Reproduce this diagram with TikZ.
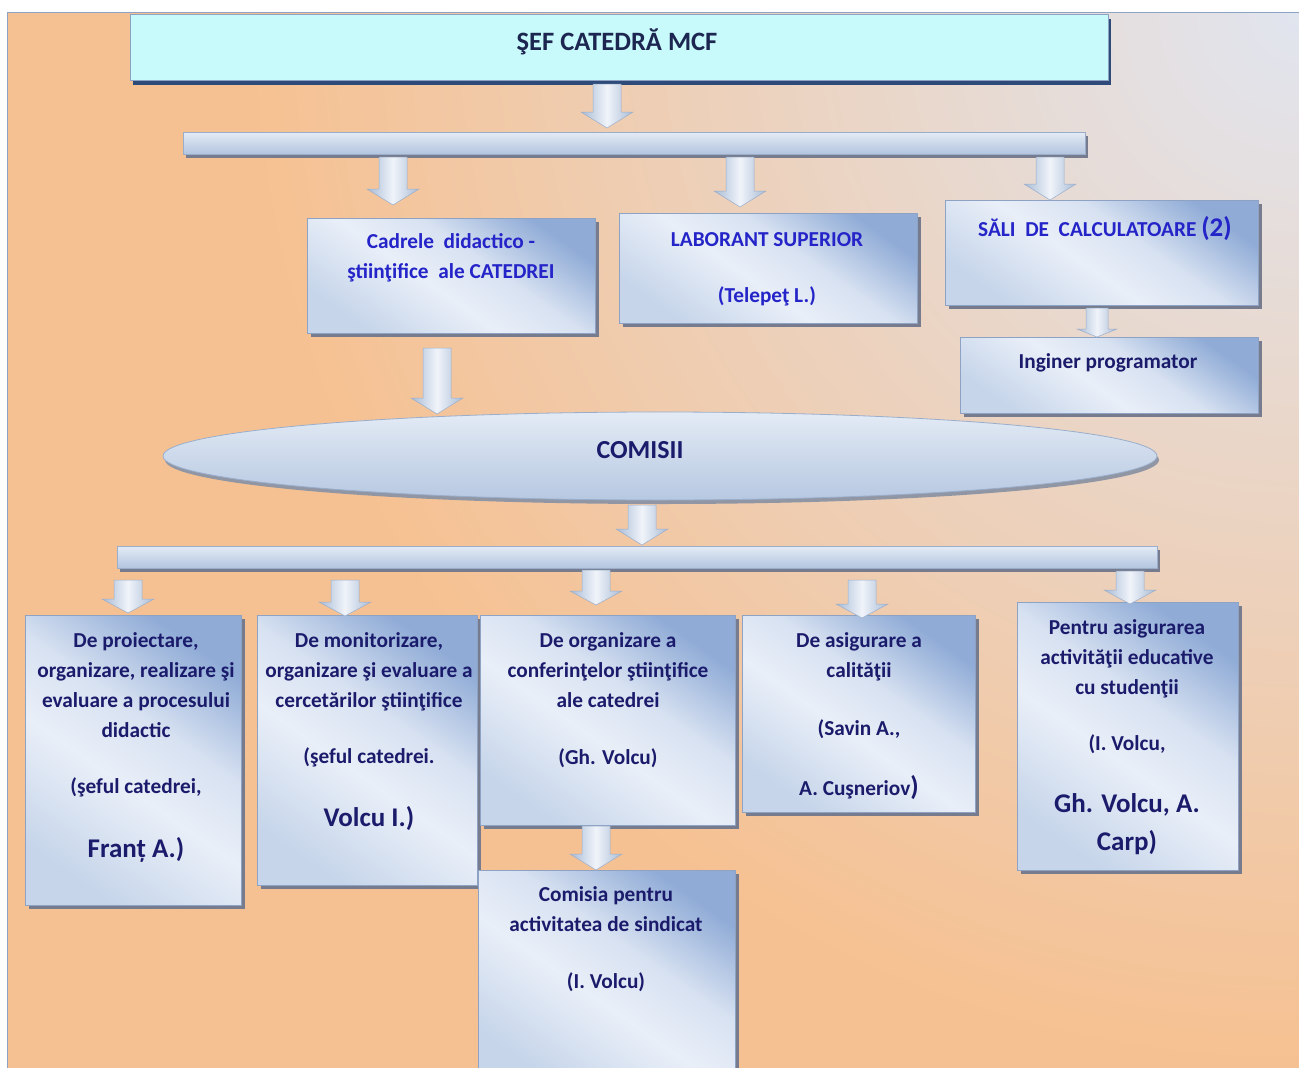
\documentclass[tikz,border=0pt]{standalone}
\usepackage{fontspec}
\setmainfont{Carlito}
\usetikzlibrary{shapes.geometric,calc}
\definecolor{bgor}{HTML}{F6C192}
\definecolor{bgbl}{HTML}{E1E5EF}
\definecolor{navy}{HTML}{1B1B6C}
\definecolor{bluet}{HTML}{2424C8}
\definecolor{titletxt}{HTML}{1C2650}
\definecolor{titlefill}{HTML}{C8FAFC}
\definecolor{titleshd}{HTML}{2E4A78}
\definecolor{bxdark}{HTML}{8FABD6}
\definecolor{bxmid}{HTML}{E9EFF8}
\definecolor{bxlight}{HTML}{C6D5EA}
\definecolor{shd}{HTML}{767C8E}
\definecolor{bxline}{HTML}{8EA3C4}
\definecolor{arredge}{HTML}{A9BBD5}
\definecolor{arrmid}{HTML}{F0F4FA}
\definecolor{arrline}{HTML}{9AAECB}
\definecolor{bartop}{HTML}{E3EBF5}
\definecolor{barbot}{HTML}{B2C4DF}
\pgfdeclareverticalshading{glass}{100bp}{color(0bp)=(bxlight); color(25bp)=(bxlight); color(45bp)=(bxmid); color(58bp)=(bxmid!80!bxdark); color(75bp)=(bxdark); color(100bp)=(bxdark)}
\newcommand\fs{\rule{0pt}{19pt}}
\newcommand\bigfnt{\fontsize{27}{30}\selectfont}
\newcommand\blockarrow[5]{%
  \path[arrsty] let \p1=(#1), \p2=(#2) in
    (\x1-#3pt,\y1) -- (\x1+#3pt,\y1) -- (\x1+#3pt,\y2+#5pt) -- (\x1+#4pt,\y2+#5pt)
    -- (\x1,\y2) -- (\x1-#4pt,\y2+#5pt) -- (\x1-#3pt,\y2+#5pt) -- cycle;}
\tikzset{
  glassbox/.style={rectangle, anchor=north west, inner sep=0pt, shade, shading=glass,
    shading angle=-35, draw=bxline, line width=0.7pt,
    preaction={fill=shd, transform canvas={shift={(4pt,-4pt)}}}},
  barsty/.style={rectangle, anchor=north west, inner sep=0pt, top color=bartop,
    bottom color=barbot, draw=arrline, line width=0.6pt,
    preaction={fill=shd, transform canvas={shift={(3pt,-4pt)}}}},
  arrsty/.style={left color=arredge, right color=arredge, middle color=arrmid,
    draw=arrline, line width=0.5pt},
  txt/.style={anchor=north, align=center, inner sep=0pt,
    font=\fontsize{21.3}{30}\selectfont\bfseries, text=navy},
  txtb/.style={txt, text=bluet},
}
\begin{document}
\begin{tikzpicture}[x=1pt,y=-1pt]
\useasboundingbox (0,0) rectangle (1299,1068);
\begin{scope}
\clip (0,0) rectangle (1299,1068);
\fill[white] (0,0) rectangle (1299,1068);
\begin{scope}
\clip (7,12) rectangle (1299,1068);
\fill[bgor] (7,12) rectangle (1299,1068);
\shade[inner color=bgbl, outer color=bgor] (1299,12) circle (1050);
\end{scope}
\draw[bxline, line width=0.8pt] (7,1068) -- (7,12) -- (1299,12);

% title
\node[rectangle, anchor=north west, minimum width=978pt, minimum height=66pt,
  fill=titlefill, draw=bxline, line width=0.8pt,
  preaction={fill=titleshd, transform canvas={shift={(3pt,-5pt)}}}] (sef) at (130,14) {};
\node[font=\fontsize{26.5}{30}\selectfont\bfseries, text=titletxt] (sefT) at (617,42) {ŞEF CATEDRĂ MCF};

% bars
\node[barsty, minimum width=902pt, minimum height=22pt] (bar1) at (183,132) {};
\node[barsty, minimum width=1040pt, minimum height=22pt] (bar2) at (117,546) {};

% top boxes
\node[glassbox, minimum width=288pt, minimum height=115pt] (cad) at (307,218) {};
\node[glassbox, minimum width=298pt, minimum height=110pt] (lab) at (619,213) {};
\node[glassbox, minimum width=313pt, minimum height=105pt] (sali) at (945,200) {};
\node[glassbox, minimum width=298pt, minimum height=76pt] (ing) at (960,337) {};

\node[txtb] (cadT) at (451,229) {\fs Cadrele\ \ didactico -\\ştiinţifice\ \ ale CATEDREI};
\node[txtb] (labT) at (767,227) {\fs LABORANT SUPERIOR\\[26pt](Telepeţ L.)};
\node[txtb] (saliT) at (1105,216) {\fs SĂLI\ \ DE\ \ CALCULATOARE {\fontsize{27}{30}\selectfont(2)}};
\node[txt] (ingT) at (1108,349) {\fs Inginer programator};

% ellipse
\node[ellipse, minimum width=994pt, minimum height=88pt, top color=bartop,
  bottom color=barbot!90!bartop, draw=arrline, line width=0.8pt,
  preaction={fill=shd!80, transform canvas={shift={(2pt,-4pt)}}}] (com) at (660,456) {};
\node[font=\fontsize{26}{30}\selectfont\bfseries, text=navy] (comT) at (640,450) {COMISII};

% bottom boxes
\node[glassbox, minimum width=216pt, minimum height=290pt] (b1) at (25,615) {};
\node[glassbox, minimum width=220pt, minimum height=270pt] (b2) at (257,615) {};
\node[glassbox, minimum width=255pt, minimum height=210pt] (b3) at (480,615) {};
\node[glassbox, minimum width=233pt, minimum height=197pt] (b4) at (742,615) {};
\node[glassbox, minimum width=221pt, minimum height=268pt] (b5) at (1017,602) {};
\node[glassbox, minimum width=257pt, minimum height=215pt] (b6) at (478,870) {};

\node[txt] (b1T) at (136,628) {\fs De proiectare,\\organizare, realizare şi\\evaluare a procesului\\didactic\\[26pt](şeful catedrei,\\[34pt]{\bigfnt Franț A.)}};
\node[txt] (b2T) at (369,628) {\fs De monitorizare,\\organizare şi evaluare a\\cercetărilor ştiinţifice\\[26pt](şeful catedrei.\\[33pt]{\bigfnt Volcu I.)}};
\node[txt] (b3T) at (608,628) {\fs De organizare a\\conferinţelor ştiinţifice\\ale catedrei\\[27pt](Gh. Volcu)};
\node[txt] (b4T) at (859,628) {\fs De asigurare a\\calităţii\\[28pt](Savin A.,\\[30pt]A. Cuşneriov{\bigfnt)}};
\node[txt] (b5T) at (1127,615) {\fs Pentru asigurarea\\activităţii educative\\cu studenţii\\[26pt](I. Volcu,\\[32pt]{\bigfnt Gh. Volcu, A.}\\[8pt]{\bigfnt Carp)}};
\node[txt] (b6T) at (606,882) {\fs Comisia pentru\\activitatea de sindicat\\[27pt](I. Volcu)};

% arrow end points
\coordinate (a1s) at (607,84);  \coordinate (a1e) at (607,128);
\coordinate (a2s) at (393,157); \coordinate (a2e) at (393,205);
\coordinate (a3s) at (740,157); \coordinate (a3e) at (740,207);
\coordinate (a4s) at (1050,157); \coordinate (a4e) at (1050,200);
\coordinate (a5s) at (1097,308); \coordinate (a5e) at (1097,337);
\coordinate (a6s) at (437,348); \coordinate (a6e) at (437,414);
\coordinate (a7s) at (642,505); \coordinate (a7e) at (642,545);
\coordinate (a8s) at (128,580); \coordinate (a8e) at (128,613);
\coordinate (a9s) at (345,580); \coordinate (a9e) at (345,616);
\coordinate (a10s) at (596,570); \coordinate (a10e) at (596,605);
\coordinate (a11s) at (862,580); \coordinate (a11e) at (862,618);
\coordinate (a12s) at (1130,571); \coordinate (a12e) at (1130,604);
\coordinate (a13s) at (596,826); \coordinate (a13e) at (596,870);

\blockarrow{a1s}{a1e}{14}{26}{16}
\blockarrow{a2s}{a2e}{14}{26}{16}
\blockarrow{a3s}{a3e}{14}{26}{16}
\blockarrow{a4s}{a4e}{14}{26}{16}
\blockarrow{a5s}{a5e}{11}{20}{8}
\blockarrow{a6s}{a6e}{14}{26}{16}
\blockarrow{a7s}{a7e}{14}{26}{16}
\blockarrow{a8s}{a8e}{14}{26}{14}
\blockarrow{a9s}{a9e}{14}{26}{14}
\blockarrow{a10s}{a10e}{14}{26}{14}
\blockarrow{a11s}{a11e}{14}{26}{14}
\blockarrow{a12s}{a12e}{14}{26}{14}
\blockarrow{a13s}{a13e}{14}{26}{16}
\end{scope}
\end{tikzpicture}
\end{document}
